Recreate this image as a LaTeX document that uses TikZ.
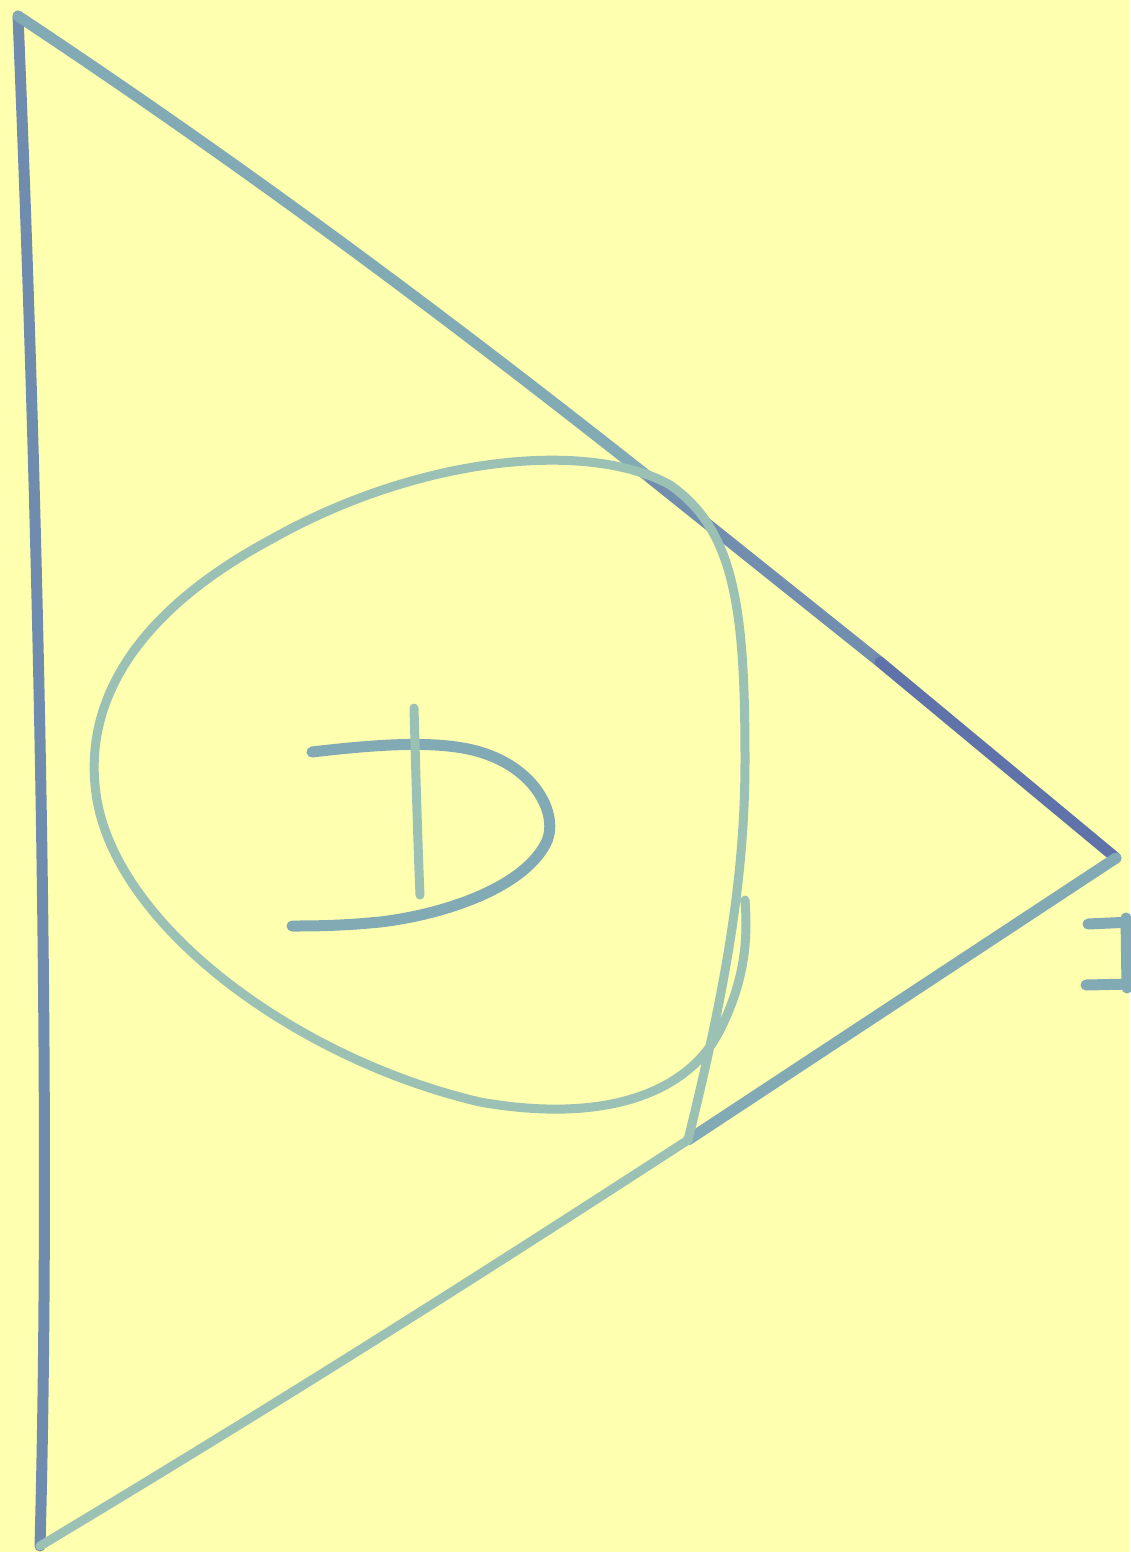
\documentclass[tikz,border=0pt]{standalone}
\usepackage{tikz}
\usetikzlibrary{calc}
\definecolor{paper}{RGB}{255,255,176}
\definecolor{pen}{RGB}{130,170,180}
\definecolor{darkpen}{RGB}{95,115,170}
\definecolor{lightpen}{RGB}{155,192,180}
\begin{document}
\begin{tikzpicture}[
    x=0.5pt, y=-0.5pt,
    stroke/.style={draw=pen, line width=5.5pt, line cap=round, line join=round},
    thinstroke/.style={draw=lightpen, line width=4.5pt, line cap=round, line join=round}
]

% Paper
\fill[paper] (0,0) rectangle (1130,1552);
\useasboundingbox (0,0) rectangle (1130,1552);

% Triangle corners
\coordinate (top) at (18,16);
\coordinate (tip) at (1116,858);
\coordinate (cross) at (688,1140);
\coordinate (bot) at (40,1546);

% Triangle
\draw[stroke, draw=darkpen!55!pen] (top) .. controls (38,500) and (52,1100) .. (bot);
\draw[stroke] (top) .. controls (250,170) and (450,320) .. (650,478);
\draw[stroke, draw=darkpen!50!pen] (650,478) -- (880,662);
\draw[stroke, draw=darkpen] (880,662) -- (tip);
\draw[stroke] (tip) -- (cross);
\draw[thinstroke] (cross) .. controls (500,1262) and (300,1390) .. (bot);

% Loop
\draw[thinstroke] (cross) .. controls (725,990) and (745,880) .. (745,760)
    .. controls (745,610) and (735,530) .. (670,485)
    .. controls (590,440) and (420,455) .. (270,540)
    .. controls (140,610) and (80,700) .. (97,800)
    .. controls (120,930) and (300,1060) .. (480,1102)
    .. controls (610,1125) and (690,1090) .. (720,1030)
    .. controls (745,980) and (748,940) .. (745,900);

% Letter
\draw[stroke] (312,752) .. controls (380,744) and (440,740) .. (480,752)
    .. controls (540,770) and (560,820) .. (545,845)
    .. controls (520,890) and (440,915) .. (380,922)
    .. controls (340,926) and (310,926) .. (292,926);
\draw[thinstroke] (414,708) .. controls (416,780) and (418,850) .. (420,895);

% Edge mark
\draw[stroke] (1088,924) -- (1132,922);
\draw[stroke] (1086,985) -- (1132,984);
\draw[stroke] (1126,918) -- (1127,988);

\end{tikzpicture}
\end{document}
